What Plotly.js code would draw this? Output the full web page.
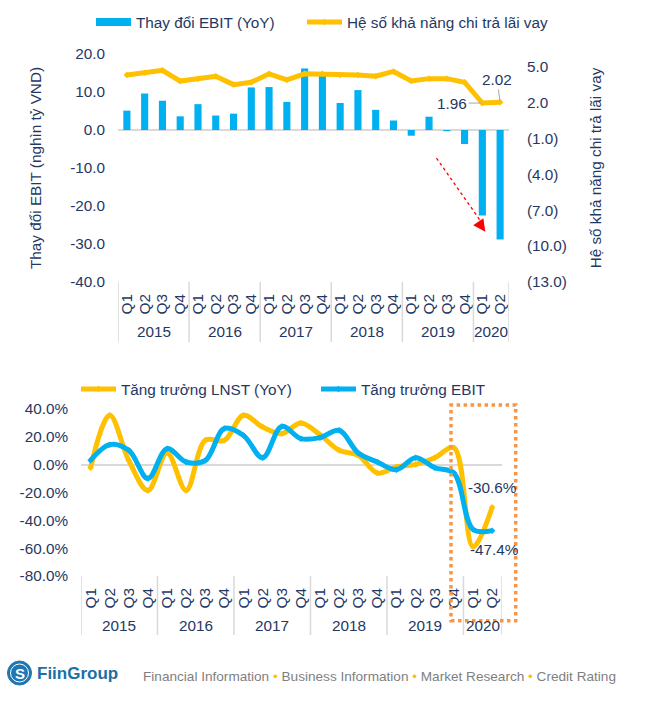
<!DOCTYPE html>
<html>
<head>
<meta charset="utf-8">
<script src="https://cdn.plot.ly/plotly-3.0.1.min.js"></script>
<style>html,body{margin:0;padding:0;background:#fff;}#chart{width:650px;height:701px;}</style>
</head>
<body>
<div id="chart"></div>
<script>
// ---------- DATA ----------
const quarters = ['Q1','Q2','Q3','Q4','Q1','Q2','Q3','Q4','Q1','Q2','Q3','Q4','Q1','Q2','Q3','Q4','Q1','Q2','Q3','Q4','Q1','Q2'];
const years = ['2015','2016','2017','2018','2019','2020'];
const quartersPerYear = [4,4,4,4,4,2];

// Top chart: change in EBIT (trillion VND) and interest coverage ratio
const ebitChange = [5.1, 9.6, 7.7, 3.6, 6.8, 3.8, 4.3, 11.2, 11.3, 7.4, 16.2, 14.8, 7.1, 10.5, 5.3, 2.5, -1.5, 3.5, -0.3, -3.7, -22.5, -28.8];
const coverage   = [4.3, 4.5, 4.7, 3.8, 4.0, 4.2, 3.5, 3.7, 4.4, 3.9, 4.4, 4.4, 4.3, 4.3, 4.2, 4.6, 3.8, 4.0, 4.0, 3.7, 1.96, 2.02];

// Bottom chart: growth (%)
const lnstGrowth = [-2.2, 35.5, 3.0, -18.5, 8.4, -18.5, 17.5, 17.5, 35.5, 27.0, 22.3, 30.0, 21.5, 10.3, 6.7, -6.0, -1.7, 0.2, 5.0, 12.2, -59.0, -30.6];
const ebitGrowth = [3.1, 14.4, 10.3, -10.0, 11.5, 1.9, 3.0, 26.0, 21.0, 5.0, 27.5, 18.7, 19.4, 24.7, 8.4, 1.9, -3.6, 5.0, -2.2, -6.0, -46.5, -47.4];

// Tick labels
const leftTickVals = [-40,-30,-20,-10,0,10,20];
const leftTickText = ['-40.0','-30.0','-20.0','-10.0','0.0','10.0','20.0'];
const rightTickVals = [-13,-10,-7,-4,-1,2,5];
const rightTickText = ['(13.0)','(10.0)','(7.0)','(4.0)','(1.0)','2.0','5.0'];
const pctTickVals = [-80,-60,-40,-20,0,20,40];
const pctTickText = ['-80.0%','-60.0%','-40.0%','-20.0%','0.0%','20.0%','40.0%'];

// Series names / texts
const nameEbitChange = 'Thay đổi EBIT (YoY)';
const nameCoverage = 'Hệ số khả năng chi trả lãi vay';
const nameLnst = 'Tăng trưởng LNST (YoY)';
const nameEbitGrowth = 'Tăng trưởng EBIT';
const leftTitle = 'Thay đổi EBIT (nghìn tỷ VND)';
const rightTitle = 'Hệ số khả năng chi trả lãi vay';

// ---------- LAYOUT HELPERS ----------
const W = 650, H = 701;
const px = v => v / W;
const py = v => 1 - v / H;
const FONT = 'Liberation Sans, Arial, sans-serif';
const NAVY = '#1F3864';
const YEL = '#FFC000';
const BLUE = '#00B0F0';
const GRID = '#D9D9D9';
const FS = 15.3;

const idx = quarters.map((q, i) => i);

// year spans
let yearCenters = [], yearBounds = [-0.5];
let start = 0;
quartersPerYear.forEach(n => {
  yearCenters.push(start + (n - 1) / 2);
  start += n;
  yearBounds.push(start - 0.5);
});

const fmt1 = v => v.toFixed(1) + '%';

// ---------- TRACES ----------
const traces = [
  { type: 'bar', x: idx, y: ebitChange, xaxis: 'x', yaxis: 'y', marker: { color: BLUE }, width: 0.4,
    name: nameEbitChange, showlegend: false, legendgroup: 'ebitc', hoverinfo: 'y' },
  // legend entry for the bar series (wide rectangle symbol)
  { type: 'scatter', x: [null], y: [null], xaxis: 'x', yaxis: 'y', mode: 'lines', line: { color: BLUE, width: 8 },
    name: nameEbitChange, legendgroup: 'ebitc', legend: 'legend', showlegend: true },
  { type: 'scatter', x: idx, y: coverage, xaxis: 'x', yaxis: 'y2', mode: 'lines+markers',
    line: { color: YEL, width: 5 }, marker: { color: YEL, size: 5, symbol: 'diamond' },
    name: nameCoverage, legend: 'legend2' },
  { type: 'scatter', x: idx, y: lnstGrowth, xaxis: 'x3', yaxis: 'y3', mode: 'lines+markers',
    line: { color: YEL, width: 5, shape: 'spline', smoothing: 1 }, marker: { color: YEL, size: 5, symbol: 'diamond' },
    name: nameLnst, legend: 'legend3' },
  { type: 'scatter', x: idx, y: ebitGrowth, xaxis: 'x3', yaxis: 'y3', mode: 'lines+markers',
    line: { color: BLUE, width: 5, shape: 'spline', smoothing: 1 }, marker: { color: BLUE, size: 5, symbol: 'diamond' },
    name: nameEbitGrowth, legend: 'legend4' }
];

const tickFont = { family: FONT, size: FS, color: NAVY };
const baseX = {
  range: [-0.5, 21.5], tickmode: 'array', tickvals: idx, ticktext: quarters, tickangle: -90,
  showgrid: false, zeroline: false, showline: false, ticks: '', tickfont: tickFont, fixedrange: true,
  ticklabelstandoff: 8
};

const annotations = [];
const shapes = [];

// year labels + dividers
yearCenters.forEach((c, i) => {
  annotations.push({ xref: 'x', yref: 'paper', x: c, y: py(331.7), text: years[i], showarrow: false,
    font: tickFont, xanchor: 'center', yanchor: 'middle' });
  annotations.push({ xref: 'x3', yref: 'paper', x: c, y: py(625), text: years[i], showarrow: false,
    font: tickFont, xanchor: 'center', yanchor: 'middle' });
});
yearBounds.forEach(b => {
  shapes.push({ type: 'line', xref: 'x', yref: 'paper', x0: b, x1: b, y0: py(282), y1: py(342),
    line: { color: GRID, width: 1.5 } });
  shapes.push({ type: 'line', xref: 'x3', yref: 'paper', x0: b, x1: b, y0: py(576), y1: py(635),
    line: { color: GRID, width: 1.5 } });
});

// data labels top
const n = quarters.length;
annotations.push({ xref: 'x', yref: 'y2', x: n - 2, y: coverage[n - 2], text: coverage[n - 2].toFixed(2),
  showarrow: true, ax: -30, ay: 0, arrowhead: 0, arrowwidth: 1, arrowcolor: '#A6A6A6', standoff: 1,
  font: tickFont });
annotations.push({ xref: 'x', yref: 'y2', x: n - 1, y: coverage[n - 1], text: coverage[n - 1].toFixed(2),
  showarrow: true, ax: -3, ay: -23, arrowhead: 0, arrowwidth: 1, arrowcolor: '#A6A6A6', standoff: 1,
  font: tickFont });

// red dashed trend arrow
shapes.push({ type: 'line', xref: 'x', yref: 'y', x0: 17.42, y0: -7.4, x1: 20.0, y1: -24.6,
  line: { color: '#FF0000', width: 1.3, dash: 'dot' } });
annotations.push({ xref: 'x', yref: 'y', x: 20.17, y: -26.8, ax: -7, ay: -10, text: '', showarrow: true,
  arrowhead: 2, arrowsize: 1.9, arrowwidth: 1.3, arrowcolor: '#FF0000' });

// data labels bottom
annotations.push({ xref: 'x3', yref: 'y3', x: n - 1, y: lnstGrowth[n - 1], text: fmt1(lnstGrowth[n - 1]),
  showarrow: false, yshift: 20, font: tickFont });
annotations.push({ xref: 'x3', yref: 'y3', x: n - 1, y: ebitGrowth[n - 1], text: fmt1(ebitGrowth[n - 1]),
  showarrow: false, yshift: -19, xshift: 2, font: tickFont });

// orange dotted highlight box
shapes.push({ type: 'rect', xref: 'paper', yref: 'paper', x0: px(451), x1: px(515.7), y0: py(620.7), y1: py(405),
  line: { color: '#F79646', width: 3.5, dash: 'dot' }, fillcolor: 'rgba(0,0,0,0)' });

// footer: logo + text
shapes.push({ type: 'circle', xref: 'paper', yref: 'paper', x0: px(7.5), x1: px(31.5), y0: py(685), y1: py(661),
  fillcolor: '#1E77B4', line: { color: '#1E77B4', width: 1 } });
shapes.push({ type: 'circle', xref: 'paper', yref: 'paper', x0: px(10.5), x1: px(28.5), y0: py(682), y1: py(664),
  fillcolor: 'rgba(0,0,0,0)', line: { color: '#FFFFFF', width: 1 } });
annotations.push({ xref: 'paper', yref: 'paper', x: px(19.5), y: py(673.5), text: '<b>S</b>', showarrow: false,
  font: { family: FONT, size: 15, color: '#FFFFFF' }, xanchor: 'center', yanchor: 'middle' });
annotations.push({ xref: 'paper', yref: 'paper', x: px(35), y: py(673), text: '<b>FiinGroup</b>', showarrow: false,
  font: { family: FONT, size: 17, color: '#1A6FA6' }, xanchor: 'left', yanchor: 'middle' });
const dot = '<span style="color:#FFC000"> • </span>';
annotations.push({ xref: 'paper', yref: 'paper', x: px(141), y: py(676), showarrow: false,
  text: 'Financial Information' + dot + 'Business Information' + dot + 'Market Research' + dot + 'Credit Rating',
  font: { family: FONT, size: 13.6, color: '#7F7F7F' }, xanchor: 'left', yanchor: 'middle' });

const legendBase = { orientation: 'h', xanchor: 'left', yanchor: 'middle', bgcolor: 'rgba(0,0,0,0)',
  borderwidth: 0, itemwidth: 35, font: { family: FONT, size: FS, color: NAVY } };

const layout = {
  width: W, height: H,
  margin: { l: 0, r: 0, t: 0, b: 0 },
  paper_bgcolor: '#FFFFFF', plot_bgcolor: 'rgba(0,0,0,0)',
  font: { family: FONT, size: FS, color: NAVY },
  showlegend: true,
  xaxis: Object.assign({}, baseX, { domain: [px(118), px(509)], anchor: 'y' }),
  yaxis: {
    domain: [py(282), py(54)], range: [-40, 20], anchor: 'x',
    tickmode: 'array', tickvals: leftTickVals, ticktext: leftTickText,
    showgrid: false, showline: false, ticks: '', tickfont: tickFont, fixedrange: true,
    zeroline: true, zerolinecolor: GRID, zerolinewidth: 2, ticklabelstandoff: 12,
    title: { text: leftTitle, font: { family: FONT, size: FS, color: NAVY }, standoff: 24 }
  },
  yaxis2: {
    overlaying: 'y', side: 'right', anchor: 'x', range: [-13, 6.06],
    tickmode: 'array', tickvals: rightTickVals, ticktext: rightTickText,
    showgrid: false, showline: false, zeroline: false, ticks: '', tickfont: tickFont, fixedrange: true,
    ticklabelstandoff: 17,
    title: { text: rightTitle, font: { family: FONT, size: FS, color: NAVY }, standoff: 24 }
  },
  xaxis3: Object.assign({}, baseX, { domain: [px(81), px(501.7)], anchor: 'y3' }),
  yaxis3: {
    domain: [py(576), py(409)], range: [-80, 40], anchor: 'x3',
    tickmode: 'array', tickvals: pctTickVals, ticktext: pctTickText,
    showgrid: false, showline: false, ticks: '', tickfont: tickFont, fixedrange: true,
    zeroline: true, zerolinecolor: GRID, zerolinewidth: 2, ticklabelstandoff: 12
  },
  legend:  Object.assign({}, legendBase, { x: px(91), y: py(22) }),
  legend2: Object.assign({}, legendBase, { x: px(302), y: py(22) }),
  legend3: Object.assign({}, legendBase, { x: px(76), y: py(389) }),
  legend4: Object.assign({}, legendBase, { x: px(316), y: py(389) }),
  annotations: annotations,
  shapes: shapes
};

Plotly.newPlot('chart', traces, layout, { displayModeBar: false, staticPlot: true });
</script>
</body>
</html>
